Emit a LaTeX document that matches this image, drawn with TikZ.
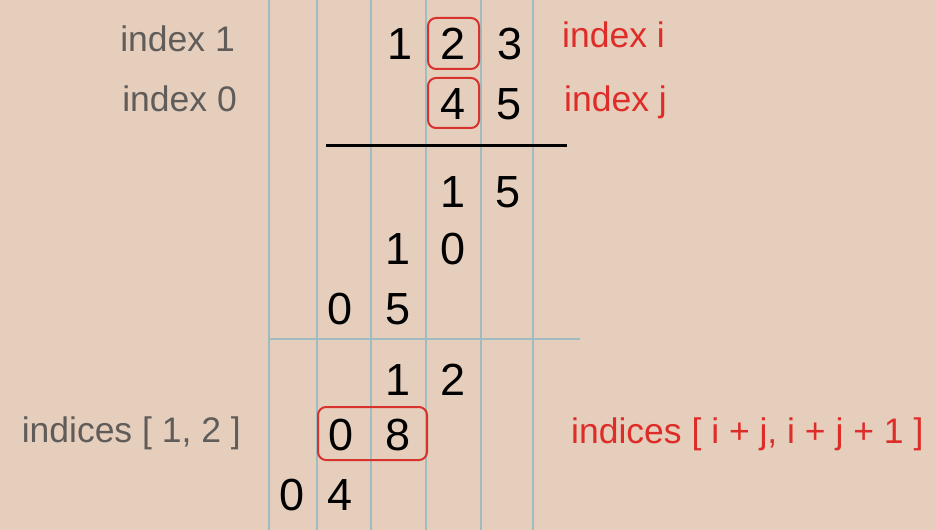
\documentclass[tikz,border=0pt]{standalone}
\usepackage{fontspec}
\setmainfont{Liberation Sans}
\definecolor{bg}{RGB}{230,206,188}
\definecolor{grid}{RGB}{160,188,192}
\definecolor{lblgray}{RGB}{95,92,90}
\definecolor{lblred}{RGB}{222,45,40}
\definecolor{boxred}{RGB}{215,50,45}
\begin{document}
\begin{tikzpicture}[x=1bp,y=-1bp,
  digit/.style={anchor=base,inner sep=0pt,font=\fontsize{45bp}{50bp}\selectfont,text=black},
  lblL/.style={anchor=base east,inner sep=0pt,font=\fontsize{35.5bp}{40bp}\selectfont,text=lblgray},
  lblR/.style={anchor=base west,inner sep=0pt,font=\fontsize{35.5bp}{40bp}\selectfont,text=lblred},
  gridline/.style={draw=grid,line width=1.8bp},
  redbox/.style={draw=boxred,line width=2bp,rounded corners=8bp},
  rule/.style={draw=black,line width=3bp}]
\fill[bg] (0,0) rectangle (935,530);
\useasboundingbox (0,0) rectangle (935,530);
% grid
\foreach \x in {269,317,371,426,481,533}
  \draw[gridline] (\x,0) -- (\x,530);
\coordinate (hl) at (269,339);
\coordinate (hr) at (580,339);
\draw[gridline] (hl) -- (hr);
\coordinate (rl) at (326,146);
\coordinate (rr) at (567,146);
\draw[rule] (rl) -- (rr);
% digits
\node[digit] (a1) at (400,60) {1};
\node[digit] (a2) at (453,60) {2};
\node[digit] (a3) at (510,60) {3};
\node[digit] (b4) at (453,120) {4};
\node[digit] (b5) at (509,120) {5};
\node[digit] (c1) at (453,208) {1};
\node[digit] (c5) at (508,208) {5};
\node[digit] (d1) at (398,265) {1};
\node[digit] (d0) at (453,265) {0};
\node[digit] (e0) at (340,325) {0};
\node[digit] (e5) at (398,325) {5};
\node[digit] (f1) at (398,395) {1};
\node[digit] (f2) at (453,395) {2};
\node[digit] (g0) at (341,450) {0};
\node[digit] (g8) at (398,450) {8};
\node[digit] (h0) at (292,510) {0};
\node[digit] (h4) at (340,510) {4};
% red boxes
\draw[redbox] (428,18) rectangle (479,69);
\draw[redbox] (428,78) rectangle (479,128);
\draw[redbox] (318,407) rectangle (427,460);
% labels
\node[lblL] (l1) at (235,52) {index 1};
\node[lblL] (l0) at (237,112) {index 0};
\node[lblL] (lidx) at (241,442) {indices [ 1, 2 ]};
\node[lblR] (ri) at (562,48) {index i};
\node[lblR] (rj) at (564,112) {index j};
\node[lblR] (rij) at (571,443) {indices [ i + j, i + j + 1 ]};
\end{tikzpicture}
\end{document}
